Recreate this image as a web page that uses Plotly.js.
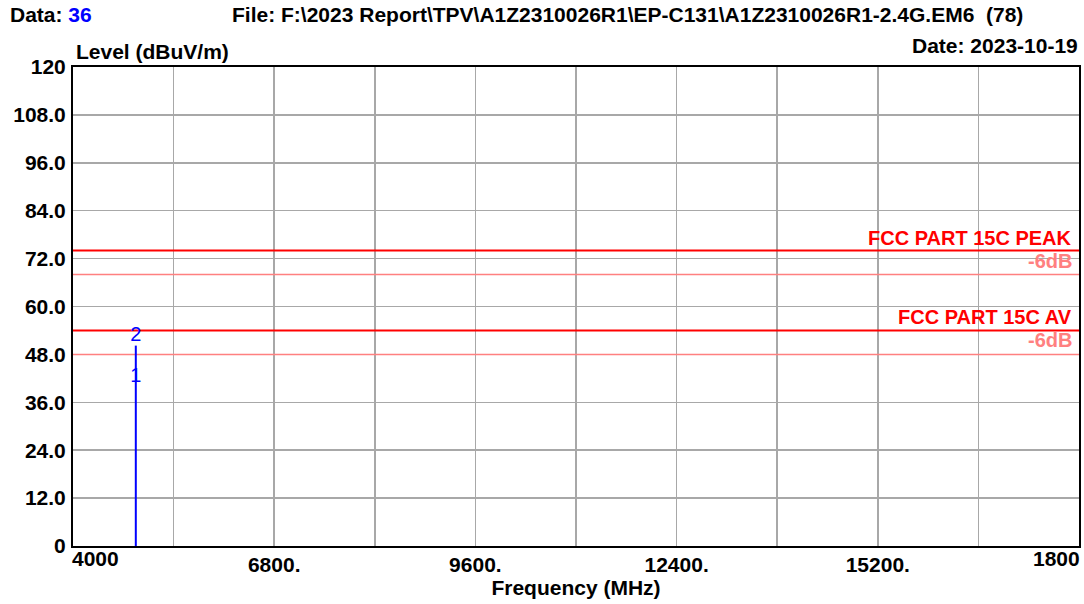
<!DOCTYPE html>
<html><head><meta charset="utf-8">
<script src="https://cdn.plot.ly/plotly-3.0.1.min.js"></script>
<style>html,body{margin:0;padding:0;background:#fff}#c{width:1084px;height:604px}</style>
</head><body><div id="c"></div>
<script>
// Data
const traceFreq = [4874, 4874];
const traceLevel = [0, 50.2];
const markerFreq = [4874, 4874];
const markerLevel = [39.8, 50.2];
const markerLabels = ['1', '2'];
const limitFreq = [4000, 18000];
const peakLimit = 74;
const avLimit = 54;
const marginDb = 6;
const xGridVals = [4000, 5400, 6800, 8200, 9600, 11000, 12400, 13800, 15200, 16600, 18000];
const xTickText = ['', '', '6800.', '', '9600.', '', '12400.', '', '15200.', '', ''];
const firstXLabel = '4000';
const lastXLabel = '1800';
const yTickVals = [0, 12, 24, 36, 48, 60, 72, 84, 96, 108, 120];
const yTickText = ['0', '12.0', '24.0', '36.0', '48.0', '60.0', '72.0', '84.0', '96.0', '108.0', '120'];

const F = 'Liberation Sans, Arial, sans-serif';
const RED = '#ff0000', PINK = '#ff8080', BLUE = '#0000ff';
const FS = 21;

const traces = [
  {x: limitFreq, y: [peakLimit, peakLimit], mode: 'lines', line: {color: RED, width: 2}, hoverinfo: 'skip'},
  {x: limitFreq, y: [peakLimit - marginDb, peakLimit - marginDb], mode: 'lines', line: {color: PINK, width: 1.5}, hoverinfo: 'skip'},
  {x: limitFreq, y: [avLimit, avLimit], mode: 'lines', line: {color: RED, width: 2}, hoverinfo: 'skip'},
  {x: limitFreq, y: [avLimit - marginDb, avLimit - marginDb], mode: 'lines', line: {color: PINK, width: 1.5}, hoverinfo: 'skip'},
  {x: traceFreq, y: traceLevel, mode: 'lines', line: {color: BLUE, width: 2}},
  {x: markerFreq, y: markerLevel, mode: 'text', text: markerLabels, textposition: 'top center',
   textfont: {family: F, size: 20, color: BLUE}, cliponaxis: false}
];

const ann = (text, x, y, xanchor, yanchor, color, size, xref, yref) => ({
  text, x, y, xanchor, yanchor, showarrow: false, xref: xref || 'paper', yref: yref || 'paper',
  font: {family: F, size: size || FS, color: color || '#000', weight: 'bold'}
});

const layout = {
  width: 1084, height: 604,
  margin: {l: 73, r: 5, t: 67, b: 58},
  paper_bgcolor: '#fff', plot_bgcolor: '#fff',
  showlegend: false,
  font: {family: F, size: FS, color: '#000'},
  xaxis: {
    range: [4000, 18000], tickmode: 'array', tickvals: xGridVals, ticktext: xTickText,
    showgrid: true, gridcolor: '#a8a8a8', gridwidth: 1.5, zeroline: false,
    showline: true, linecolor: '#000', linewidth: 2, mirror: true, ticks: '',
    tickfont: {family: F, size: FS, color: '#000', weight: 'bold'}, ticklabelstandoff: -1,
    title: {text: 'Frequency (MHz)', font: {family: F, size: FS, weight: 'bold'}, standoff: 2}
  },
  yaxis: {
    range: [0, 120], tickmode: 'array', tickvals: yTickVals, ticktext: yTickText,
    showgrid: true, gridcolor: '#a8a8a8', gridwidth: 1.5, zeroline: false,
    showline: true, linecolor: '#000', linewidth: 2, mirror: true, ticks: '',
    tickfont: {family: F, size: FS, color: '#000', weight: 'bold'}, ticklabelstandoff: 1
  },
  annotations: [
    {text: '<b>Data: </b><b><span style="color:#0000ff">36</span></b>', showarrow: false,
     xref: 'paper', yref: 'paper', font: {family: F, size: FS, color: '#000'}},
    ann('File: F:\\2023 Report\\TPV\\A1Z2310026R1\\EP-C131\\A1Z2310026R1-2.4G.EM6\u00a0\u00a0(78)', 0, 0, 'left', 'middle'),
    ann('Date: 2023-10-19', 0, 0, 'right', 'middle'),
    ann('Level (dBuV/m)', 0, 0, 'left', 'middle'),
    ann(firstXLabel, xGridVals[0], 0, 'left', 'top', '#000', FS, 'x', 'y'),
    ann('FCC PART 15C PEAK', 17930, peakLimit, 'right', 'bottom', RED, 20, 'x', 'y'),
    ann('-6dB', 17930, peakLimit, 'right', 'top', PINK, 20, 'x', 'y'),
    ann('FCC PART 15C AV', 17930, avLimit, 'right', 'bottom', RED, 20, 'x', 'y'),
    ann('-6dB', 17930, avLimit, 'right', 'top', PINK, 20, 'x', 'y'),
    ann(lastXLabel, xGridVals[xGridVals.length - 1], 0, 'right', 'top', '#000', FS, 'x', 'y')
  ]
};
// pixel placement for header texts (converted to paper coords)
const pw = 1084 - 73 - 5, ph = 604 - 67 - 58;
const px = v => (v - 73) / pw, py = v => (604 - 58 - v) / ph;
const a = layout.annotations;
a[0].x = px(8); a[0].y = py(14); a[0].xanchor = 'left'; a[0].yanchor = 'middle';
a[1].x = px(230); a[1].y = py(14);
a[2].x = px(1080); a[2].y = py(46);
a[3].x = px(74); a[3].y = py(51);
a[4].yshift = 1; a[4].xshift = -3;
a[5].yshift = 0; a[6].yshift = 3; a[7].yshift = 0; a[8].yshift = 3;
a[9].yshift = 1; a[9].xshift = 3;

Plotly.newPlot('c', traces, layout, {staticPlot: true});
</script></body></html>
